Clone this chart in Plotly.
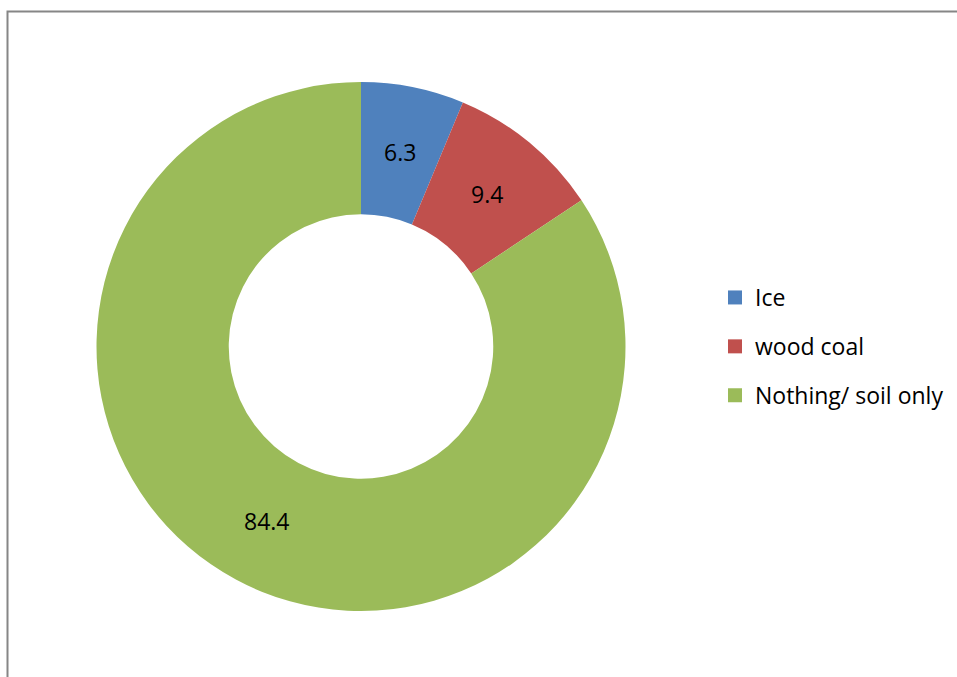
import math
import plotly.graph_objects as go

labels = ["Ice", "wood coal", "Nothing/ soil only"]
values = [6.3, 9.4, 84.4]
colors = ["#4F81BD", "#C0504D", "#9BBB59"]

W, H = 957, 677
FONT = "Open Sans, Lato, Liberation Sans, Arial"
HOLE = 0.5
dom_x = [96 / W, 626 / W]
dom_y = [1 - 611 / H, 1 - 82 / H]

fig = go.Figure()
fig.add_trace(go.Pie(
    labels=labels, values=values, hole=HOLE, sort=False, direction="clockwise",
    rotation=0, marker=dict(colors=colors, line=dict(width=0)),
    textinfo="none",
    domain=dict(x=dom_x, y=dom_y),
    showlegend=False, hoverinfo="label+value",
))
for lab, col in zip(labels, colors):
    fig.add_trace(go.Scatter(
        x=[None], y=[None], mode="markers", name=lab, legendgroup=lab,
        marker=dict(symbol="square", size=14, color=col),
        showlegend=True,
    ))

# data labels at the middle of each ring segment (Excel style)
cx_px = (dom_x[0] + dom_x[1]) / 2 * W
cy_px = (1 - (dom_y[0] + dom_y[1]) / 2) * H
R = min((dom_x[1] - dom_x[0]) * W, (dom_y[1] - dom_y[0]) * H) / 2
rm = R * (1 + HOLE) / 2
total = sum(values)
cum = 0.0
annotations = []
for v in values:
    mid = (cum + v / 2) / total * 2 * math.pi
    cum += v
    px = cx_px + rm * math.sin(mid)
    py = cy_px - rm * math.cos(mid)
    annotations.append(dict(x=px / W, y=1 - py / H, xref="paper", yref="paper",
                            xanchor="center", yanchor="middle",
                            text=f"{v}", showarrow=False,
                            font=dict(family=FONT, size=23, color="black")))

fig.update_layout(
    width=W, height=H, margin=dict(l=0, r=0, t=0, b=0),
    paper_bgcolor="white", plot_bgcolor="white",
    xaxis=dict(visible=False), yaxis=dict(visible=False),
    annotations=annotations,
    legend=dict(x=715 / W, y=1 - 276 / H, xanchor="left", yanchor="top",
                font=dict(family=FONT, size=23, color="black"),
                tracegroupgap=16, bgcolor="rgba(0,0,0,0)"),
    shapes=[dict(type="path", xref="paper", yref="paper",
                 path=f"M {7.5/W},0 L {7.5/W},{1-11.5/H} L 1.01,{1-11.5/H}",
                 line=dict(color="#868686", width=2))],
)
fig.write_html("out.html")
